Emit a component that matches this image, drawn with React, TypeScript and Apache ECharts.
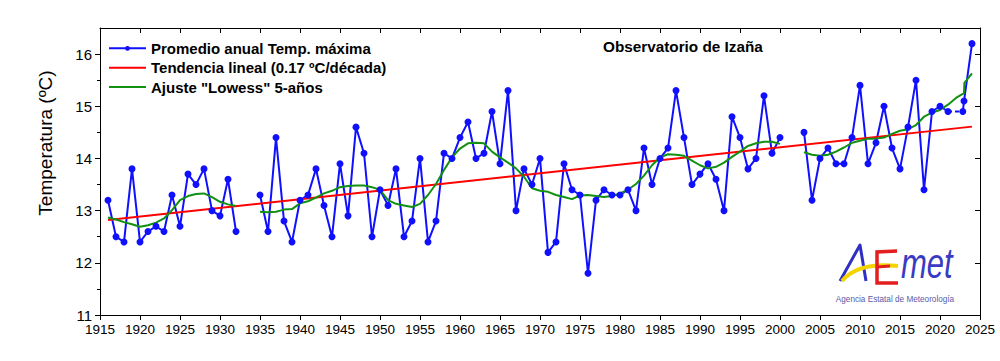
import React, { useEffect, useRef } from 'react';
import * as echarts from 'echarts';

const FONT = 'Liberation Sans, Arial, sans-serif';

const firstYear = 1916;
// Promedio anual Temp. máxima (ºC), 1916..2021 (null = sin dato)
const tmax: (number | null)[] = [
  13.2, 12.5, 12.4, 13.8, 12.4, 12.6, 12.7, 12.6, 13.3, 12.7, // 1916-1925
  13.7, 13.5, 13.8, 13.0, 12.9, 13.6, 12.6, null, null, 13.3, // 1926-1935
  12.6, 14.4, 12.8, 12.4, 13.2, 13.3, 13.8, 13.1, 12.5, 13.9, // 1936-1945
  12.9, 14.6, 14.1, 12.5, 13.4, 13.1, 13.8, 12.5, 12.8, 14.0, // 1946-1955
  12.4, 12.8, 14.1, 14.0, 14.4, 14.7, 14.0, 14.1, 14.9, 13.9, // 1956-1965
  15.3, 13.0, 13.8, 13.5, 14.0, 12.2, 12.4, 13.9, 13.4, 13.3, // 1966-1975
  11.8, 13.2, 13.4, 13.3, 13.3, 13.4, 13.0, 14.2, 13.5, 14.0, // 1976-1985
  14.2, 15.3, 14.4, 13.5, 13.7, 13.9, 13.6, 13.0, 14.8, 14.4, // 1986-1995
  13.8, 14.0, 15.2, 14.1, 14.4, null, null, 14.5, 13.2, 14.0, // 1996-2005
  14.2, 13.9, 13.9, 14.4, 15.4, 13.9, 14.3, 15.0, 14.2, 13.8, // 2006-2015
  14.6, 15.5, 13.4, 14.9, 15.0, 14.9,                         // 2016-2021
];
// Last points as plotted in the original (x positions as drawn there)
const tailYears = [2022.85, 2023, 2024];
const tailValues = [14.9, 15.1, 16.2];

// Ajuste "Lowess" 5-años, 1916..2024
const lowess: (number | null)[] = [
  12.87, 12.83, 12.78, 12.74, 12.69, 12.72, 12.77, 12.85, 13.01, 13.20, // 1916-1925
  13.28, 13.32, 13.33, 13.26, 13.17, 13.12, 13.09, null, null, 12.98,   // 1926-1935
  12.97, 12.98, 13.02, 13.03, 13.14, 13.18, 13.25, 13.33, 13.38, 13.45, // 1936-1945
  13.47, 13.48, 13.48, 13.45, 13.40, 13.20, 13.13, 13.10, 13.07, 13.13, // 1946-1955
  13.30, 13.51, 13.78, 14.02, 14.19, 14.29, 14.30, 14.29, 14.13, 14.02, // 1956-1965
  13.92, 13.81, 13.65, 13.43, 13.38, 13.36, 13.30, 13.26, 13.22, 13.29, // 1966-1975
  13.30, 13.28, 13.26, 13.28, 13.33, 13.40, 13.51, 13.67, 13.87, 14.02, // 1976-1985
  14.08, 14.07, 14.05, 13.96, 13.87, 13.81, 13.84, 13.92, 14.03, 14.13, // 1986-1995
  14.24, 14.29, 14.32, 14.32, 14.28, null, null, 14.12, 14.07, 14.05,   // 1996-2005
  14.07, 14.13, 14.21, 14.30, 14.34, 14.38, 14.38, 14.40, 14.47, 14.53, // 2006-2015
  14.56, 14.64, 14.80, 14.88, 14.93, 15.03, 15.16, 15.25, 15.63,        // 2016-2024
];
const lowessJumpYear = 2023.05;
const lowessJumpValue = 15.45;

// Tendencia lineal (0.17 ºC/década)
const trendYears = [1916, 2024];
const trendValues = [12.82, 14.61];

const yLabelValues = [11, 12, 13, 14, 15, 16];

const seriesNames = [
  'Promedio anual Temp. máxima',
  'Tendencia lineal (0.17 ºC/década)',
  'Ajuste "Lowess" 5-años',
];

const BLUE = '#1010ff';

export default function App() {
  const ref = useRef<HTMLDivElement>(null);

  useEffect(() => {
    if (!ref.current) return;
    const chart = echarts.init(ref.current, null, { renderer: 'svg' });

    const lastYear = firstYear + tmax.length - 1;
    const blueData: any[] = tmax.map((v, i) => [firstYear + i, v == null ? '-' : v]);
    blueData.push([(lastYear + tailYears[0]) / 2, '-']);
    tailYears.forEach((y, i) => blueData.push([y, tailValues[i]]));
    const dashedData = [
      [lastYear, tmax[tmax.length - 1]],
      [tailYears[0], tailValues[0]],
    ];

    const greenData: any[] = [];
    lowess.forEach((v, i) => {
      const yr = firstYear + i;
      greenData.push([yr, v == null ? '-' : v]);
      if (yr === 2023) greenData.push([lowessJumpYear, lowessJumpValue]);
    });
    const redData = trendYears.map((y, i) => [y, trendValues[i]]);

    const axisCommon = {
      splitLine: { show: false },
      axisLine: { show: true, onZero: false, lineStyle: { color: '#000', width: 1 } },
    };

    chart.setOption({
      animation: false,
      textStyle: { fontFamily: FONT },
      grid: { left: 100, right: 20, top: 28, bottom: 46, containLabel: false },
      title: {
        text: 'Observatorio de Izaña',
        left: 603,
        top: 38.5,
        padding: 0,
        textStyle: { fontSize: 15.3, fontWeight: 'bold', color: '#000', fontFamily: FONT },
      },
      legend: {
        orient: 'vertical',
        left: 108,
        top: 40.8,
        padding: 0,
        itemWidth: 37,
        itemHeight: 6,
        itemGap: 4.4,
        data: [
          { name: seriesNames[0] },
          { name: seriesNames[1], itemStyle: { opacity: 0 } },
          { name: seriesNames[2], itemStyle: { opacity: 0 } },
        ],
        textStyle: { fontSize: 15, fontWeight: 'bold', color: '#000', lineHeight: 15, fontFamily: FONT },
      },
      xAxis: [
        {
          type: 'value',
          min: 1915,
          max: 2025,
          interval: 5,
          position: 'bottom',
          ...axisCommon,
          axisTick: { show: true, inside: false, length: 5, lineStyle: { color: '#000' } },
          axisLabel: {
            color: '#000',
            fontSize: 13.5,
            margin: 7,
            fontFamily: FONT,
            formatter: (v: number) => String(v),
          },
        },
        {
          type: 'value',
          min: 1915,
          max: 2025,
          interval: 5,
          position: 'top',
          ...axisCommon,
          axisTick: { show: true, inside: true, length: 5, lineStyle: { color: '#000' } },
          axisLabel: { show: false },
        },
      ],
      yAxis: [
        {
          type: 'value',
          min: 11,
          max: 16.5,
          position: 'left',
          ...axisCommon,
          axisTick: { show: true, inside: false, length: 5, customValues: yLabelValues, lineStyle: { color: '#000' } },
          minorTick: { show: true, splitNumber: 2, length: 3, lineStyle: { color: '#000' } },
          axisLabel: { color: '#000', fontSize: 15, margin: 8, customValues: yLabelValues, fontFamily: FONT },
        },
        {
          type: 'value',
          min: 11,
          max: 16.5,
          position: 'right',
          ...axisCommon,
          axisTick: { show: true, inside: true, length: 5, customValues: yLabelValues, lineStyle: { color: '#000' } },
          axisLabel: { show: false },
        },
      ],
      series: [
        {
          name: seriesNames[0],
          type: 'line',
          xAxisIndex: 0,
          yAxisIndex: 0,
          data: blueData,
          symbol: 'circle',
          symbolSize: 7,
          connectNulls: false,
          lineStyle: { color: BLUE, width: 2 },
          itemStyle: { color: BLUE },
        },
        {
          name: 'tramo',
          type: 'line',
          xAxisIndex: 0,
          yAxisIndex: 0,
          data: dashedData,
          symbol: 'none',
          lineStyle: { color: BLUE, width: 2, type: [4, 3] },
          itemStyle: { color: BLUE },
        },
        {
          name: seriesNames[1],
          type: 'line',
          xAxisIndex: 0,
          yAxisIndex: 0,
          data: redData,
          symbol: 'none',
          lineStyle: { color: '#ff0000', width: 2 },
          itemStyle: { color: '#ff0000' },
        },
        {
          name: seriesNames[2],
          type: 'line',
          xAxisIndex: 0,
          yAxisIndex: 0,
          data: greenData,
          symbol: 'none',
          connectNulls: false,
          lineStyle: { color: '#129012', width: 2 },
          itemStyle: { color: '#129012' },
        },
      ],
      graphic: [
        {
          type: 'text',
          x: 45,
          y: 143,
          rotation: Math.PI / 2,
          style: {
            text: 'Temperatura (ºC)',
            fontSize: 19,
            fontFamily: FONT,
            fill: '#000',
            align: 'center',
            verticalAlign: 'middle',
          },
        },
        {
          type: 'polyline',
          shape: { points: [[840, 281], [860, 245], [866, 281]] },
          style: { stroke: '#2f2fc4', lineWidth: 3, fill: null, lineJoin: 'round' },
          z: 10,
        },
        {
          type: 'bezierCurve',
          shape: { x1: 842, y1: 281, cpx1: 858, cpy1: 262, x2: 898, y2: 266 },
          style: { stroke: '#f3d400', lineWidth: 4, fill: null },
          z: 10,
        },
        {
          type: 'polyline',
          shape: { points: [[897, 251], [877, 252], [877, 283], [898, 283]] },
          style: { stroke: '#e41e1e', lineWidth: 3.5, fill: null },
          z: 11,
        },
        {
          type: 'line',
          shape: { x1: 877, y1: 267, x2: 890, y2: 266 },
          style: { stroke: '#e41e1e', lineWidth: 3 },
          z: 11,
        },
        {
          type: 'text',
          x: 901,
          y: 285,
          scaleY: 1.35,
          style: {
            text: 'met',
            fontSize: 31,
            fontStyle: 'italic',
            fontFamily: FONT,
            fill: '#3a3ac4',
            align: 'left',
            verticalAlign: 'bottom',
          },
          z: 10,
        },
        {
          type: 'text',
          x: 895,
          y: 299,
          style: {
            text: 'Agencia Estatal de Meteorología',
            fontSize: 8.2,
            fontFamily: FONT,
            fill: '#5a5aa8',
            align: 'center',
            verticalAlign: 'middle',
          },
          z: 10,
        },
      ],
    });

    return () => chart.dispose();
  }, []);

  return (
    <div
      ref={ref}
      style={{ position: 'fixed', left: 0, top: 0, width: 1000, height: 361, background: '#fff' }}
    />
  );
}
